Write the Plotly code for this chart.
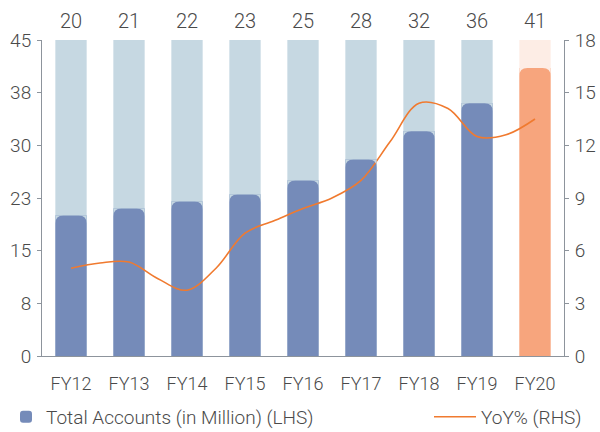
import plotly.graph_objects as go

categories = ["FY12", "FY13", "FY14", "FY15", "FY16", "FY17", "FY18", "FY19", "FY20"]
accounts = [20, 21, 22, 23, 25, 28, 32, 36, 41]
capacity = [45, 45, 45, 45, 45, 45, 45, 45, 45]
# YoY% read at half-year steps (position index along categories)
yoy_pos = [0, 0.5, 1, 1.5, 2, 2.5, 3, 3.5, 4, 4.5, 5, 5.5, 6, 6.5, 7, 7.5, 8]
yoy = [5.0, 5.3, 5.35, 4.4, 3.75, 5.0, 7.0, 7.7, 8.4, 9.0, 10.0, 12.2, 14.4, 14.1, 12.5, 12.6, 13.5]
left_tickvals = [0, 7.5, 15, 22.5, 30, 37.5, 45]
left_ticktext = ["0", "8", "15", "23", "30", "38", "45"]
right_tickvals = [0, 3, 6, 9, 12, 15, 18]

font_family = "Roboto"
grey_txt = "#4a4a4a"
axis_col = "#8d949c"

bg_colors = ["#c6d8e2"] * 8 + ["#fdede5"]
fg_colors = ["#758bb9"] * 8 + ["#f7a57d"]

W, H = 600, 432
ML, MR, MT, MB = 42, 36, 40, 76
BAR_W = 0.54
CORNER_PX = 8

fig = go.Figure()
fig.add_trace(go.Bar(
    x=categories, y=capacity, marker=dict(color=bg_colors, line=dict(width=0)),
    width=BAR_W, showlegend=False, hoverinfo="skip"))
fig.add_trace(go.Bar(
    x=categories, y=accounts, marker=dict(color=fg_colors, line=dict(width=0), cornerradius=CORNER_PX),
    width=BAR_W, name="Total Accounts (in Million) (LHS)", legend="legend"))
fig.add_trace(go.Scatter(
    x=yoy_pos, y=yoy, xaxis="x2", yaxis="y2", mode="lines",
    line=dict(color="#f07a2f", width=1.6, shape="spline", smoothing=1.0),
    name="YoY% (RHS)", legend="legend2"))

# rounded tops: trim the corners of each value bar with slivers in the background colour
px_per_cat = (W - ML - MR) / len(categories)
px_per_unit = (H - MT - MB) / (capacity[0] - 0)
rx = CORNER_PX / px_per_cat
ry = CORNER_PX / px_per_unit
for i, (v, bc) in enumerate(zip(accounts, bg_colors)):
    x0 = i - BAR_W / 2
    x1 = i + BAR_W / 2
    left = f"M {x0},{v} L {x0 + rx},{v} Q {x0},{v} {x0},{v - ry} Z"
    right = f"M {x1},{v} L {x1 - rx},{v} Q {x1},{v} {x1},{v - ry} Z"
    for p in (left, right):
        fig.add_shape(type="path", path=p, xref="x2", yref="y", fillcolor=bc,
                      line=dict(width=0), layer="above")

for c, v in zip(categories, accounts):
    fig.add_annotation(x=c, y=1, xref="x", yref="paper", yanchor="bottom",
                       text=str(v), showarrow=False, yshift=5,
                       font=dict(family=font_family, size=20, color=grey_txt, weight=300))

tickfont = dict(size=19, color=grey_txt, weight=300)
fig.update_layout(
    width=W, height=H,
    margin=dict(l=ML, r=MR, t=MT, b=MB, autoexpand=False),
    paper_bgcolor="white", plot_bgcolor="white",
    barmode="overlay",
    font=dict(family=font_family, color=grey_txt, weight=300),
    xaxis=dict(type="category", range=[-0.5, 8.5], showline=True, linecolor=axis_col,
               linewidth=1, ticks="", showgrid=False, zeroline=False, automargin=False,
               tickfont=dict(size=18, color=grey_txt, weight=300), ticklabelstandoff=11),
    xaxis2=dict(range=[-0.5, 8.5], overlaying="x", visible=False),
    yaxis=dict(range=[0, 45], tickvals=left_tickvals, ticktext=left_ticktext,
               showline=True, linecolor=axis_col, linewidth=1, ticks="outside",
               ticklen=4, tickcolor=axis_col, showgrid=False, zeroline=False, automargin=False,
               tickfont=tickfont, ticklabelstandoff=2),
    yaxis2=dict(range=[0, 18], tickvals=right_tickvals, overlaying="y", side="right",
                showline=True, linecolor=axis_col, linewidth=1, ticks="outside",
                ticklen=4, tickcolor=axis_col, showgrid=False, zeroline=False, automargin=False,
                tickfont=tickfont, ticklabelstandoff=2),
    legend=dict(x=0.01, y=0.035, xref="container", yref="container", xanchor="left", yanchor="middle",
                orientation="h", font=dict(size=19, color=grey_txt, weight=300),
                bgcolor="rgba(0,0,0,0)"),
    legend2=dict(x=0.715, y=0.035, xref="container", yref="container", xanchor="left", yanchor="middle",
                 orientation="h", font=dict(size=19, color=grey_txt, weight=300),
                 itemwidth=42, bgcolor="rgba(0,0,0,0)"),
)

fig.write_html("out.html", post_script="document.body.style.margin='0';",
               config={"displayModeBar": False})
